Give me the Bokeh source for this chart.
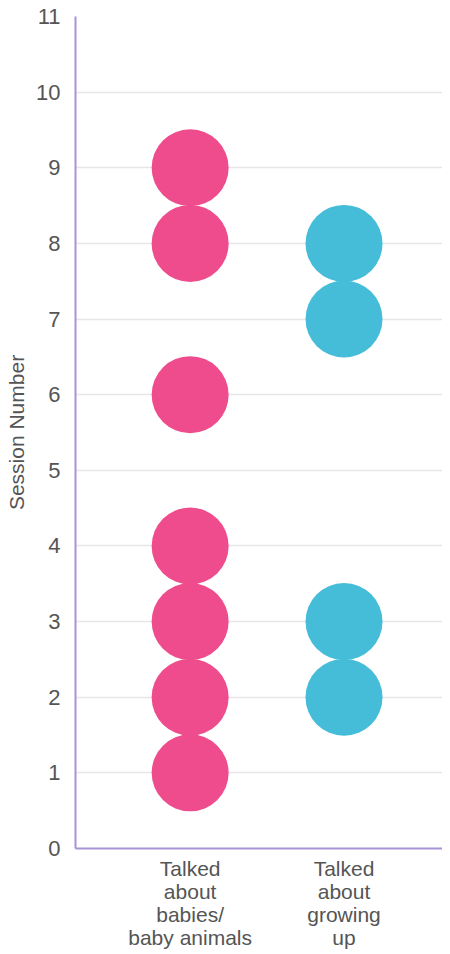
from bokeh.plotting import figure
from bokeh.models import FixedTicker, Range1d
from bokeh.embed import file_html
from bokeh.resources import INLINE

categories = ["Talked\nabout\nbabies/\nbaby animals", "Talked\nabout\ngrowing\nup"]
category_pos = [1, 2]
babies_sessions = [1, 2, 3, 4, 6, 8, 9]
growing_sessions = [2, 3, 7, 8]
y_ticks = list(range(0, 12))

PINK = "#EE4C8C"
BLUE = "#45BDD9"
PURPLE = "#A793D6"
TEXT = "#555555"
FONT = "Liberation Sans"

p = figure(width=442, height=951, output_backend="svg", toolbar_location=None,
           x_range=Range1d(0.255, 2.64), y_range=Range1d(0, 11),
           min_border_left=75, min_border_right=0, min_border_top=16, min_border_bottom=101)

p.scatter([category_pos[0]] * len(babies_sessions), babies_sessions, size=77, color=PINK, line_color=None)
p.scatter([category_pos[1]] * len(growing_sessions), growing_sessions, size=77, color=BLUE, line_color=None)

p.outline_line_color = None
p.background_fill_color = "white"
p.xgrid.grid_line_color = None
p.ygrid.grid_line_color = "#E6E6E6"
p.ygrid.grid_line_width = 1.5
p.ygrid.ticker = FixedTicker(ticks=y_ticks[1:])

p.yaxis.ticker = FixedTicker(ticks=y_ticks)
p.yaxis.axis_line_color = PURPLE
p.yaxis.axis_line_width = 2
p.yaxis.major_tick_line_color = None
p.yaxis.minor_tick_line_color = None
p.yaxis.major_label_text_font = FONT
p.yaxis.major_label_text_font_size = "22px"
p.yaxis.major_label_text_color = TEXT
p.yaxis.major_label_standoff = 9
p.yaxis.axis_label = "Session Number"
p.yaxis.axis_label_text_font = FONT
p.yaxis.axis_label_text_font_size = "21px"
p.yaxis.axis_label_text_font_style = "normal"
p.yaxis.axis_label_text_color = TEXT
p.yaxis.axis_label_standoff = 5

p.xaxis.ticker = FixedTicker(ticks=category_pos)
p.xaxis.major_label_overrides = {category_pos[0]: categories[0], category_pos[1]: categories[1]}
p.xaxis.major_label_text_font = FONT
p.xaxis.major_label_text_font_size = "21px"
p.xaxis.major_label_text_color = TEXT
p.xaxis.major_label_text_line_height = 1.0
p.xaxis.major_label_standoff = 2
p.xaxis.axis_line_color = PURPLE
p.xaxis.axis_line_width = 2
p.xaxis.major_tick_line_color = None
p.xaxis.minor_tick_line_color = None

open("out.html", "w").write(file_html(p, INLINE))
